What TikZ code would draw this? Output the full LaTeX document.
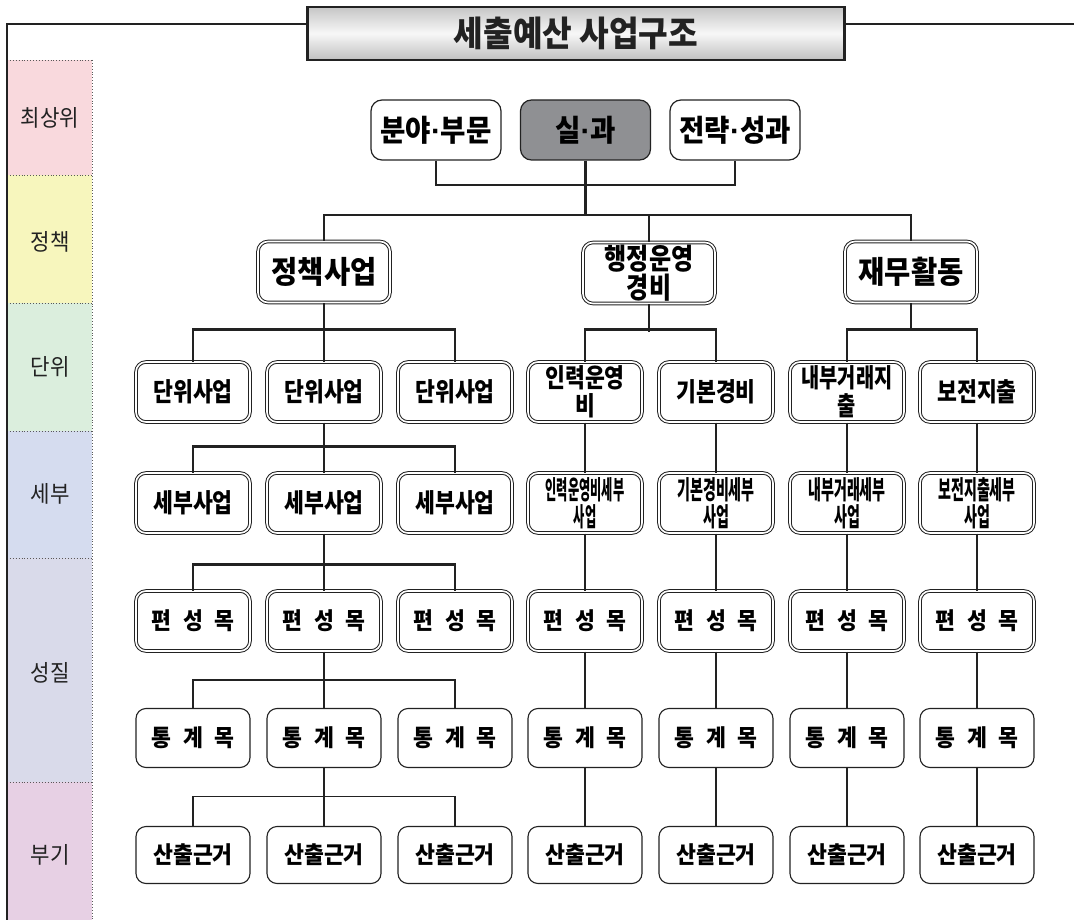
\documentclass[tikz,border=0pt]{standalone}
\usepackage{fontspec}
\newfontfamily\krA{Noto Sans CJK KR}[FakeStretch=0.47]
\newfontfamily\krB{Noto Sans CJK KR}[FakeStretch=0.54]
\newfontfamily\krC{Noto Sans CJK KR}[FakeStretch=0.76]
\newfontfamily\krD{Noto Sans CJK KR}[FakeStretch=0.83]
\newfontfamily\krE{Noto Sans CJK KR}[FakeStretch=0.92]
\newfontfamily\lat{Liberation Sans}
\newcommand{\mdot}{{\lat\bfseries ·}}
\definecolor{bpink}{HTML}{F9D9DD}
\definecolor{byel}{HTML}{F7F6BD}
\definecolor{bgreen}{HTML}{DBEEDD}
\definecolor{bblue}{HTML}{D5DCEF}
\definecolor{blav}{HTML}{D9DAEA}
\definecolor{bmag}{HTML}{E7D0E4}
\definecolor{ink}{HTML}{222222}
\definecolor{darkfill}{HTML}{8F9093}
\begin{document}
\begin{tikzpicture}[x=1pt,y=-1pt,
  lvla/.style={draw=ink, line width=1.2, rounded corners=11, fill=white, minimum width=130, minimum height=60, inner sep=0, align=center, font=\krE\bfseries\fontsize{30}{32}\selectfont},
  dbl/.style={draw=ink, double=white, double distance=1.6, line width=1.0, rounded corners=10, inner sep=0, align=center},
  lvlb/.style={dbl, minimum width=132, minimum height=61, font=\krE\bfseries\fontsize{31}{33}\selectfont},
  box/.style={dbl, minimum width=114, minimum height=60, font=\krD\bfseries\fontsize{26}{28}\selectfont},
  pbox/.style={dbl, minimum width=114, minimum height=60, font=\krE\bfseries\fontsize{23.5}{26}\selectfont},
  sbox/.style={draw=ink, line width=1.1, rounded corners=10, fill=white, inner sep=0, align=center, minimum width=114, minimum height=59, font=\krE\bfseries\fontsize{23.5}{26}\selectfont},
  thick line/.style={draw=ink, line width=2.2},
  thin line/.style={draw=ink, line width=1.1},
  band/.style={font=\krE\fontsize{23}{25}\selectfont, text=ink},
  sep/.style={draw=black!65, dotted, line width=0.9}
]
\useasboundingbox (0,0) rectangle (1074,920);

% ---- left bands
\fill[bpink]  (7,60)  rectangle (92,175);
\fill[byel]   (7,175) rectangle (92,303);
\fill[bgreen] (7,303) rectangle (92,431);
\fill[bblue]  (7,431) rectangle (92,558);
\fill[blav]   (7,558) rectangle (92,782);
\fill[bmag]   (7,782) rectangle (92,920);
\foreach \yy in {60,175,303,431,558,782} \draw[sep] (7,\yy) -- (92,\yy);
\draw[sep] (92,60) -- (92,920);
\node[band] (b1) at (50,118) {최상위};
\node[band] (b2) at (50,242) {정책};
\node[band] (b3) at (50,367) {단위};
\node[band] (b4) at (50,494) {세부};
\node[band] (b5) at (50,673) {성질};
\node[band] (b6) at (50,855) {부기};

% ---- title
\node[draw=ink, line width=2.6, top color=gray!45, bottom color=gray!50, middle color=gray!6,
      minimum width=537, minimum height=53, inner sep=0,
      font=\krE\bfseries\fontsize{35}{37}\selectfont, text=ink] (title) at (576,33.5) {세출예산 사업구조};
\draw[ink, line width=1.4] (title.west |- 0,24) -- (7,24) -- (7,920);
\draw[ink, line width=1.4] (title.east |- 0,24) -- (1074,24);

% ---- level 1
\node[lvla] (r1a) at (436,130) {분야\mdot 부문};
\node[lvla, fill=darkfill] (r1b) at (585.5,130) {실\mdot 과};
\node[lvla] (r1c) at (735,130) {전략\mdot 성과};

% ---- level 2
\node[lvlb] (p) at (324,272) {정책사업};
\node[lvlb, font=\krD\bfseries\fontsize{29}{29}\selectfont] (h) at (649,273) {행정운영\\경비};
\node[lvlb] (j) at (911,272) {재무활동};

% ---- level 3
\node[box] (u1) at (193,392) {단위사업};
\node[box] (u2) at (324,392) {단위사업};
\node[box] (u3) at (455,392) {단위사업};
\node[box] (u4) at (585,392) {인력운영\\비};
\node[box] (u5) at (716,392) {기본경비};
\node[box, font=\krC\bfseries\fontsize{26}{28}\selectfont] (u6) at (847,392) {내부거래지\\출};
\node[box] (u7) at (977,392) {보전지출};

% ---- level 4
\node[box] (s1) at (193,503) {세부사업};
\node[box] (s2) at (324,503) {세부사업};
\node[box] (s3) at (455,503) {세부사업};
\node[box, font=\krA\bfseries\fontsize{26}{27}\selectfont] (s4) at (585,503) {인력운영비세부\\사업};
\node[box, font=\krB\bfseries\fontsize{26}{27}\selectfont] (s5) at (716,503) {기본경비세부\\사업};
\node[box, font=\krB\bfseries\fontsize{26}{27}\selectfont] (s6) at (847,503) {내부거래세부\\사업};
\node[box, font=\krB\bfseries\fontsize{26}{27}\selectfont] (s7) at (977,503) {보전지출세부\\사업};

% ---- level 5
\foreach \i/\xx in {1/193,2/324,3/455,4/585,5/716,6/847,7/977}
  \node[pbox] (f\i) at (\xx,621) {{\spaceskip=12pt 편 성 목}};

% ---- level 6
\foreach \i/\xx in {1/193,2/324,3/455,4/585,5/716,6/847,7/977}
  \node[sbox] (t\i) at (\xx,738) {{\spaceskip=12pt 통 계 목}};

% ---- level 7
\foreach \i/\xx in {1/193,2/324,3/455,4/585,5/716,6/847,7/977}
  \node[sbox, minimum height=57] (c\i) at (\xx,855) {산출근거};

% ---- connectors top
\coordinate (bus0) at (585.5,185);
\coordinate (bus1) at (585.5,215);
\draw[thick line] (r1a.south) |- (bus0) -| (r1c.south);
\draw[thick line] (r1b.south) -- (bus1);
\draw[thick line] (p.north) |- (bus1) -| (j.north);
\draw[thick line] (h.north) -- (h.north |- bus1);

% ---- level 2 -> 3
\draw[thick line] (p.south) -- (u2.north);
\draw[thick line] (u1.north) -- ++(0,-32) -| (u3.north);
\draw[thick line] (h.south) -- ++(0,27.5);
\draw[thick line] (u4.north) -- ++(0,-32) -| (u5.north);
\draw[thick line] (j.south) -- ++(0,28);
\draw[thick line] (u6.north) -- ++(0,-32) -| (u7.north);

% ---- level 3 -> 4 -> 5
\draw[thick line] (u2.south) -- (s2.north);
\draw[thick line] (s1.north) -- ++(0,-26) -| (s3.north);
\draw[thick line] (s2.south) -- (f2.north);
\draw[thick line] (f1.north) -- ++(0,-26) -| (f3.north);
\foreach \i in {4,5,6,7} {
  \draw[thick line] (u\i.south) -- (s\i.north);
  \draw[thick line] (s\i.south) -- (f\i.north);
}

% ---- level 5 -> 6 -> 7
\draw[thin line] (f2.south) -- (t2.north);
\draw[thin line] (t1.north) -- ++(0,-28) -| (t3.north);
\draw[thin line] (t2.south) -- (c2.north);
\draw[thin line] (c1.north) -- ++(0,-29.5) -| (c3.north);
\foreach \i in {4,5,6,7} {
  \draw[thin line] (f\i.south) -- (t\i.north);
  \draw[thin line] (t\i.south) -- (c\i.north);
}
\end{tikzpicture}
\end{document}
